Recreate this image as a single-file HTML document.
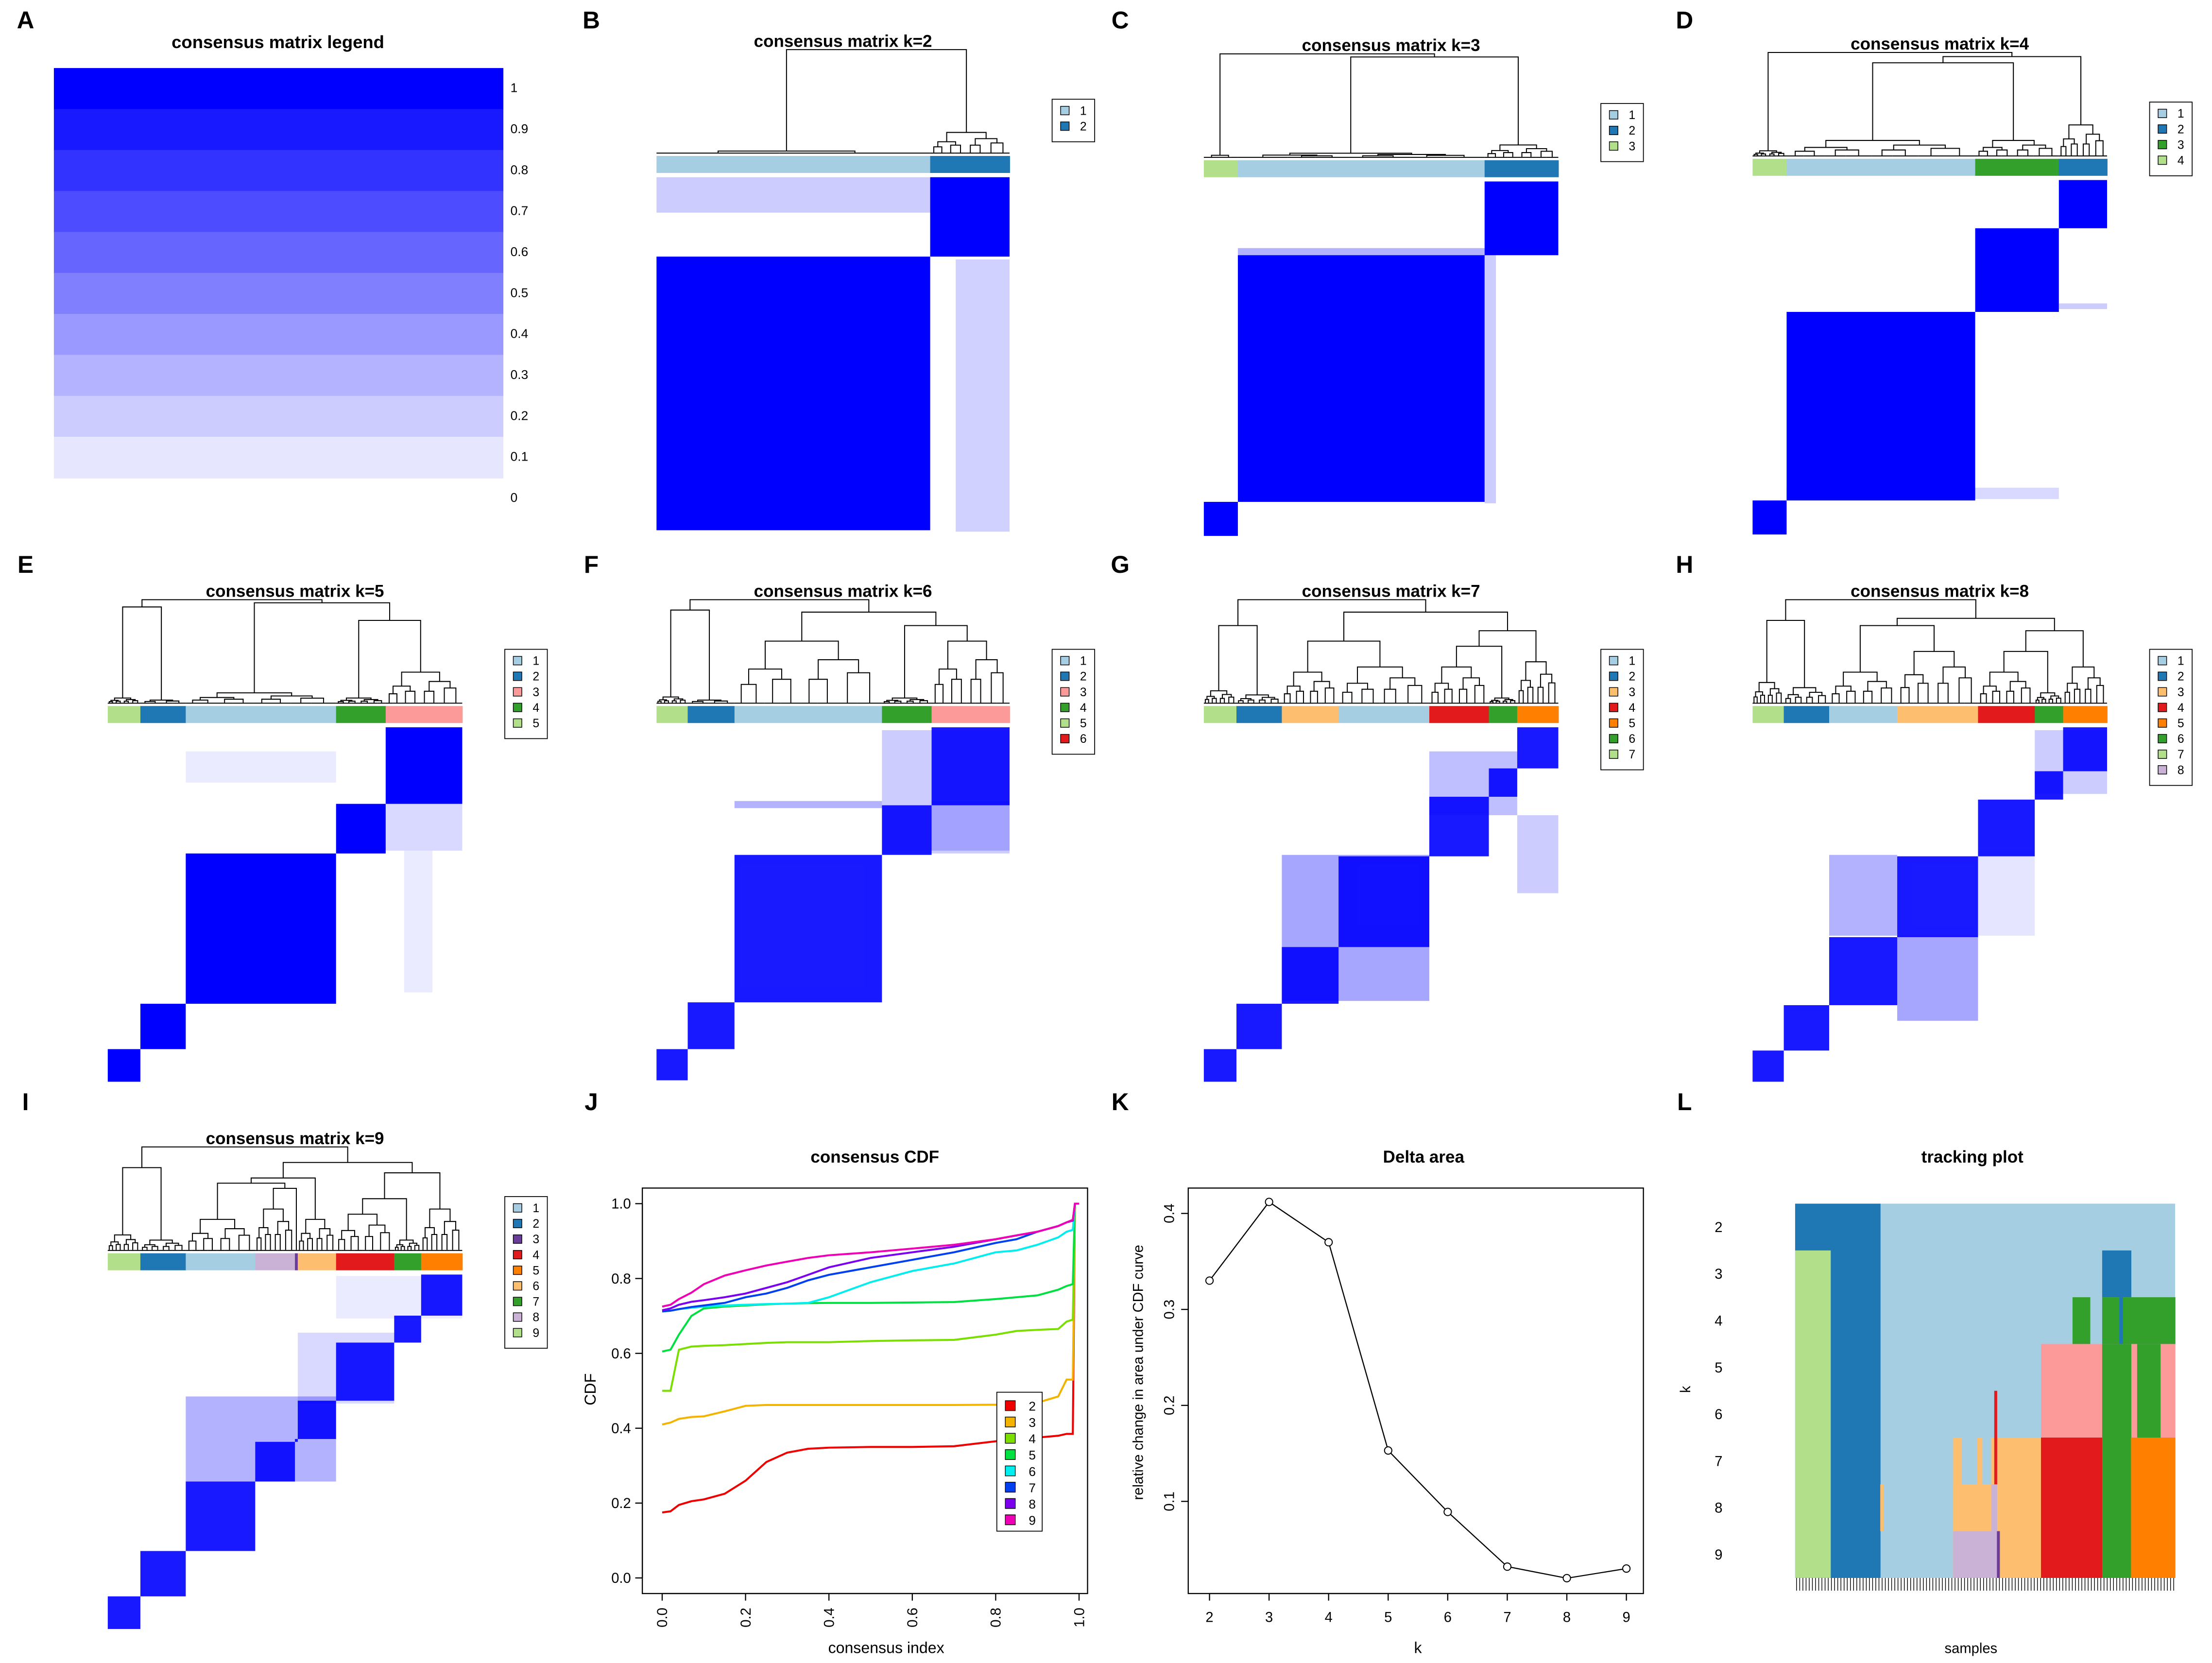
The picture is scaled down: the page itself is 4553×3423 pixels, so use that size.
<!DOCTYPE html>
<html><head><meta charset="utf-8"><style>
html,body{margin:0;padding:0;background:#fff}
svg{display:block}
text{font-family:"Liberation Sans",sans-serif}
</style></head><body>
<svg id="fig" xmlns="http://www.w3.org/2000/svg" width="4553" height="3423" viewBox="0 0 1560 1173" preserveAspectRatio="none">
<rect x="0" y="0" width="1560" height="1173" fill="#fff"/>
</svg>
<script>
// ---------- data ----------
const legendLevels = [1,0.9,0.8,0.7,0.6,0.5,0.4,0.3,0.2,0.1,0];
const C = {lb:'#A6CEE3',db:'#1F78B4',lg:'#B2DF8A',g:'#33A02C',pk:'#FB9A99',rd:'#E31A1C',lo:'#FDBF6F',or:'#FF7F00',lv:'#CAB2D6',pu:'#6A3D9A'};
const kValues = [2,3,4,5,6,7,8,9];
const deltaArea = [0.33,0.412,0.37,0.153,0.089,0.032,0.02,0.03];
const cdfX = [0,0.02,0.04,0.07,0.1,0.15,0.2,0.25,0.3,0.35,0.4,0.5,0.6,0.7,0.8,0.85,0.9,0.95,0.97,0.985,0.99,1.0];
const cdf2 = [0.175,0.178,0.195,0.205,0.21,0.225,0.26,0.31,0.335,0.345,0.348,0.35,0.35,0.352,0.365,0.37,0.375,0.38,0.385,0.385,1.0,1.0];
const cdf3 = [0.41,0.415,0.425,0.43,0.432,0.445,0.46,0.462,0.462,0.462,0.462,0.462,0.462,0.462,0.463,0.466,0.468,0.485,0.53,0.53,1.0,1.0];
const cdf4 = [0.50,0.5,0.61,0.618,0.62,0.622,0.625,0.628,0.63,0.63,0.63,0.633,0.635,0.636,0.65,0.66,0.663,0.665,0.685,0.69,1.0,1.0];
const cdf5 = [0.605,0.61,0.65,0.70,0.72,0.725,0.728,0.731,0.733,0.734,0.735,0.735,0.736,0.737,0.745,0.75,0.755,0.77,0.78,0.785,1.0,1.0];
const cdf6 = [0.712,0.714,0.718,0.722,0.725,0.728,0.73,0.732,0.733,0.735,0.75,0.79,0.82,0.84,0.87,0.875,0.89,0.91,0.925,0.93,1.0,1.0];
const cdf7 = [0.712,0.714,0.718,0.724,0.728,0.735,0.75,0.76,0.775,0.795,0.81,0.83,0.85,0.87,0.895,0.905,0.925,0.94,0.95,0.955,1.0,1.0];
const cdf8 = [0.715,0.72,0.73,0.738,0.742,0.75,0.76,0.775,0.79,0.81,0.83,0.855,0.87,0.885,0.905,0.915,0.925,0.94,0.95,0.955,1.0,1.0];
const cdf9 = [0.725,0.73,0.745,0.762,0.785,0.808,0.822,0.835,0.845,0.855,0.862,0.87,0.88,0.89,0.905,0.915,0.925,0.94,0.95,0.957,1.0,1.0];
const cdfSeries = [cdf2,cdf3,cdf4,cdf5,cdf6,cdf7,cdf8,cdf9];
const cdfColors = ['#EE0000','#F2B400','#7ADF00','#00E040','#00EEEE','#0040EE','#7A00EE','#EE00B4'];
const yTicksCDF = [0,0.2,0.4,0.6,0.8,1.0];
const yTicksCDFLabels = ['0.0','0.2','0.4','0.6','0.8','1.0'];
const yTicksDelta = [0.1,0.2,0.3,0.4];

// matrix panels
const panels = [
 {id:'B',k:2,x0:463,y0:125,w:[193,56],c:['lb','db'],ih:[0.02,0.2],tree:[0,1,1],leg:['lb','db']},
 {id:'C',k:3,x0:849,y0:128,w:[24,174,52],c:['lg','lb','db'],ih:[0.02,0.04,0.12],tree:[0,[1,2,0.97],1],leg:['lb','db','lg']},
 {id:'D',k:4,x0:1236,y0:127,w:[24,133,59,34],c:['lg','lb','g','db'],ih:[0.05,0.15,0.15,0.3],tree:[0,[[1,2,0.9],3,0.96],1],leg:['lb','db','g','lg']},
 {id:'E',k:5,x0:76,y0:513,w:[23,32,106,35,54],c:['lg','db','lb','g','pk'],ih:[0.05,0.03,0.1,0.05,0.3],tree:[[0,1,0.93],[2,[3,4,0.8],0.97],1],leg:['lb','db','pk','g','lg']},
 {id:'F',k:6,x0:463,y0:513,w:[22,33,104,35,55],c:['lg','db','lb','g','pk'],ih:[0.06,0.03,0.6,0.05,0.6],tree:[[0,1,0.9],[2,[3,4,0.75],0.88],1],leg:['lb','db','pk','g','lg','rd']},
 {id:'G',k:7,x0:849,y0:513,w:[23,32,40,64,42,20,29],c:['lg','db','lo','lb','rd','g','or'],ih:[0.12,0.08,0.3,0.35,0.35,0.05,0.4],tree:[[0,1,0.75],[[2,3,0.6],[[4,5,0.55],6,0.7],0.88],1],leg:['lb','db','lo','rd','or','g','lg']},
 {id:'H',k:8,x0:1236,y0:513,w:[22,32,48,57,40,20,31],c:['lg','db','lb','lo','rd','g','or'],ih:[0.2,0.15,0.3,0.5,0.3,0.1,0.35],tree:[[0,1,0.8],[[2,3,0.75],[[4,5,0.5],6,0.7],0.82],1],leg:['lb','db','lo','rd','or','g','lg','lv']},
 {id:'I',k:9,x0:76,y0:899,w:[23,32,49,28,2,27,41,19,29],c:['lg','db','lb','lv','pu','lo','rd','g','or'],ih:[0.15,0.1,0.3,0.4,0,0.3,0.35,0.1,0.4],tree:[[0,1,0.8],[[[2,[3,4,0.6],0.65],5,0.7],[[6,7,0.5],8,0.75],0.85],1],leg:['lb','db','pu','rd','or','lo','g','lv','lg']}
];
// faint off-diagonal regions [x0,x1,y0,y1,opacity]
const faint = {
 B:[[463,656,125,150,0.2],[674,712,183,375,0.18]],
 C:[[873,1047,175,182,0.3],[1047,1055,180,355,0.2]],
 D:[[1260,1268,220,350,0.15],[1260,1393,344,352,0.45],[1393,1452,344,352,0.15],[1452,1486,214,218,0.2]],
 E:[[272,326,560,600,0.15],[131,237,530,552,0.08],[285,305,600,700,0.08]],
 F:[[622,712,515,602,0.2],[518,622,565,570,0.3],[657,712,565,600,0.2]],
 G:[[1008,1070,530,575,0.25],[1070,1099,575,630,0.2],[904,1008,603,706,0.35]],
 H:[[1290,1338,603,660,0.3],[1338,1395,660,720,0.35],[1395,1435,600,660,0.1],[1435,1486,515,560,0.2]],
 I:[[131,237,985,1045,0.3],[210,278,940,990,0.15],[237,326,900,930,0.08]]
};

// tracking plot: background lb, rect [f0,f1,rowStart,rowEnd,color]
const trackRects = [
 [0,0.224,0,7,'db'],[0,0.093,1,7,'lg'],[0.808,0.884,1,1,'db'],
 [0.730,0.776,2,2,'g'],[0.808,1.0,2,2,'g'],[0.853,0.862,2,2,'db'],
 [0.647,1.0,3,4,'pk'],[0.808,0.884,3,4,'g'],[0.900,0.961,3,4,'g'],
 [0.416,0.438,5,7,'lo'],[0.479,0.492,5,7,'lo'],[0.516,0.647,5,7,'lo'],[0.416,0.516,6,7,'lo'],
 [0.647,0.808,5,7,'rd'],[0.808,0.884,5,7,'g'],[0.884,1.0,5,7,'or'],
 [0.224,0.232,6,6,'lo'],[0.516,0.531,6,6,'lv'],[0.416,0.531,7,7,'lv'],[0.531,0.538,7,7,'pu'],
 [0.524,0.531,4,5,'rd']
];
const trackRowLabels = ['2','3','4','5','6','7','8','9'];

// ---------- helpers ----------
const svg = document.getElementById('fig');
const NS = 'http://www.w3.org/2000/svg';
function mk(tag, attrs, parent){const e=document.createElementNS(NS,tag);for(const a in attrs)e.setAttribute(a,attrs[a]);(parent||svg).appendChild(e);return e;}
function txt(x,y,s,size,opts,parent){const t=mk('text',Object.assign({x:x,y:y,'font-size':size,'text-anchor':'middle',fill:'#000'},opts||{}),parent);t.textContent=s;return t;}

// panel letters
const letters=[['A',18,20],['B',417,20],['C',790,20],['D',1188,20],['E',18,404],['F',417,404],['G',790,404],['H',1188,404],['I',18,783],['J',417,783],['K',790,783],['L',1188,783]];
letters.forEach(l=>{const t=txt(l[1],l[2],l[0],17,{'font-weight':'bold'});

});

// ---------- Panel A ----------
{
 const g=mk('g',{});
 
 
 const t=txt(196,34,'consensus matrix legend',12.5,{'font-weight':'bold'},g);
 
 
 const top=48, bh=28.9;
 legendLevels.forEach((v,i)=>{
  if(v>0){const shade=Math.round(255*(1-v));
   const r=mk('rect',{x:38,y:top+i*bh,width:317,height:bh+0.5,fill:`rgb(${shade},${shade},255)`},g);
   
   }
  const l=txt(360,top+i*bh+17,String(v),9,{'text-anchor':'start'},g);
  
  
 });
}

// ---------- matrix panels ----------
panels.forEach(p=>{
 const g=mk('g',{});
 
 
 const W=p.w.reduce((a,b)=>a+b,0), X1=p.x0+W;
 const t=txt(p.x0+W/2+7,p.y0-92,'consensus matrix k='+p.k,12,{'font-weight':'bold'},g);
 
 
 const b=[p.x0]; p.w.forEach(w=>b.push(b[b.length-1]+w));
 p.w.forEach((w,i)=>{const r=mk('rect',{x:b[i],y:p.y0-15,width:w+0.3,height:12,fill:C[p.c[i]]},g);
  
  });
 (faint[p.id]||[]).forEach(f=>{const r=mk('rect',{x:f[0],y:f[2],width:f[1]-f[0],height:f[3]-f[2],fill:'#0000ff','fill-opacity':f[4]},g);
  
  });
 const op = p.k>=6?0.9:1;
 p.w.forEach((w,i)=>{const a=b[i],bb=b[i+1];
  const r=mk('rect',{x:a,y:p.y0+(X1-bb),width:w,height:w,fill:'#0000ff','fill-opacity':op},g);
  
  });
 const base=p.y0-17, topY=p.y0-90;
 const Y=h=>base-h*(base-topY);
 const dg=mk('g',{stroke:'#000','stroke-width':0.7,fill:'none'},g);
 
 
 function br(l,r,h){mk('path',{d:`M${l.x},${Y(l.h)}V${Y(h)}H${r.x}V${Y(r.h)}`},dg);return {x:(l.x+r.x)/2,h:h};}
 function sub(a,c,h,d){ if(d===0||h<0.015||c-a<3){mk('path',{d:`M${a},${base}H${c}`},dg);return {x:(a+c)/2,h:0.005};}
  const m=a+(c-a)*0.45; const L=sub(a,m,h*0.55,d-1), R=sub(m,c,h*0.7,d-1); return br(L,R,h);}
 function node(n){ if(typeof n==='number') return sub(b[n],b[n+1],p.ih[n],3);
  return br(node(n[0]),node(n[1]),n[2]); }
 node(p.tree);
 const lx=p.x0+W+30, ly=p.y0-55, lh=8+11*p.leg.length;
 const lg=mk('g',{},g);
 
 
 mk('rect',{x:lx,y:ly,width:30,height:lh,fill:'#fff',stroke:'#000','stroke-width':0.6},lg);
 p.leg.forEach((c,i)=>{
  const s=mk('rect',{x:lx+6,y:ly+5+11*i,width:6,height:6,fill:C[c],stroke:'#000','stroke-width':0.5},lg);
  
  
  txt(lx+22,ly+11+11*i,String(i+1),8.5,{},lg);
 });
});

// ---------- Panel J: CDF ----------
{
 const g=mk('g',{});
 
 
 const bx0=453,bx1=767,by0=838,by1=1124;
 const X=v=>467+v*(761-467), Yv=v=>1113-v*(1113-849);
 const t=txt(617,820,'consensus CDF',12,{'font-weight':'bold'},g);
 
 
 mk('rect',{x:bx0,y:by0,width:bx1-bx0,height:by1-by0,fill:'none',stroke:'#000','stroke-width':0.8},g);
 yTicksCDF.forEach((v,i)=>{mk('line',{x1:bx0-5,x2:bx0,y1:Yv(v),y2:Yv(v),stroke:'#000','stroke-width':0.8},g);
  const l=txt(bx0-8,Yv(v)+3.5,yTicksCDFLabels[i],10,{'text-anchor':'end'},g);
  
  });
 mk('line',{x1:bx0,x2:bx0,y1:Yv(0),y2:Yv(1),stroke:'#000','stroke-width':0.8},g);
 mk('line',{x1:X(0),x2:X(1),y1:by1,y2:by1,stroke:'#000','stroke-width':0.8},g);
 yTicksCDF.forEach((v,i)=>{mk('line',{x1:X(v),x2:X(v),y1:by1,y2:by1+5,stroke:'#000','stroke-width':0.8},g);
  const l=txt(0,0,yTicksCDFLabels[i],10,{transform:`translate(${X(v)+3.5},${by1+10}) rotate(-90)`,'text-anchor':'end'},g);
  
  });
 const xl=txt(625,1166,'consensus index',11,{},g);
 
 
 const yl=txt(0,0,'CDF',11,{transform:'translate(420,980) rotate(-90)'},g);
 
 
 cdfSeries.forEach((s,i)=>{
  const d=s.map((v,j)=>(j?'L':'M')+X(cdfX[j]).toFixed(1)+','+Yv(v).toFixed(1)).join('');
  const pth=mk('path',{d:d,fill:'none',stroke:cdfColors[i],'stroke-width':1.4},g);
  
  
 });
 const lg=mk('g',{},g);
 
 
 mk('rect',{x:703,y:982,width:32,height:98,fill:'#fff',stroke:'#000','stroke-width':0.6},lg);
 kValues.forEach((k,i)=>{
  const s=mk('rect',{x:709,y:988+11.5*i,width:7,height:7,fill:cdfColors[i],stroke:'#000','stroke-width':0.5},lg);
  
  
  txt(728,995+11.5*i,String(k),9,{},lg);
 });
}

// ---------- Panel K: Delta area ----------
{
 const g=mk('g',{});
 
 
 const bx0=838,bx1=1159,by0=838,by1=1124;
 const X=k=>853+(k-2)*42, Yv=v=>1059-(v-0.1)*677;
 const t=txt(1004,820,'Delta area',12,{'font-weight':'bold'},g);
 
 
 mk('rect',{x:bx0,y:by0,width:bx1-bx0,height:by1-by0,fill:'none',stroke:'#000','stroke-width':0.8},g);
 yTicksDelta.forEach(v=>{mk('line',{x1:bx0-5,x2:bx0,y1:Yv(v),y2:Yv(v),stroke:'#000','stroke-width':0.8},g);
  const l=txt(0,0,String(v),10,{transform:`translate(${bx0-10},${Yv(v)}) rotate(-90)`},g);
  
  });
 mk('line',{x1:bx0,x2:bx0,y1:Yv(0.1),y2:Yv(0.4),stroke:'#000','stroke-width':0.8},g);
 mk('line',{x1:X(2),x2:X(9),y1:by1,y2:by1,stroke:'#000','stroke-width':0.8},g);
 kValues.forEach(k=>{mk('line',{x1:X(k),x2:X(k),y1:by1,y2:by1+5,stroke:'#000','stroke-width':0.8},g);
  const l=txt(X(k),by1+20,String(k),10,{},g);
  
  });
 const xl=txt(1000,1166,'k',11,{},g);
 
 
 const yl=txt(0,0,'relative change in area under CDF curve',10,{transform:'translate(806,968) rotate(-90)'},g);
 
 
 const d=deltaArea.map((v,i)=>(i?'L':'M')+X(kValues[i])+','+Yv(v).toFixed(1)).join('');
 const ln=mk('path',{d:d,fill:'none',stroke:'#000','stroke-width':0.8},g);
 
 
 deltaArea.forEach((v,i)=>{const c=mk('circle',{cx:X(kValues[i]),cy:Yv(v),r:2.6,fill:'#fff',stroke:'#000','stroke-width':0.7},g);
  
  });
}

// ---------- Panel L: tracking ----------
{
 const g=mk('g',{});
 
 
 const x0=1266,x1=1534,y0=849,y1=1113,rh=(y1-y0)/8;
 const t=txt(1391,820,'tracking plot',12,{'font-weight':'bold'},g);
 
 
 const bg=mk('rect',{x:x0,y:y0,width:x1-x0,height:y1-y0,fill:C.lb},g);
 
 
 trackRects.forEach(r=>{const e=mk('rect',{x:x0+r[0]*(x1-x0),y:y0+r[2]*rh,width:(r[1]-r[0])*(x1-x0)+0.2,height:(r[3]-r[2]+1)*rh,fill:C[r[4]]},g);
  
  });
 trackRowLabels.forEach((s,i)=>{const l=txt(1212,y0+rh*(i+0.5)+3.5,s,10,{},g);
  
  });
 let d='';for(let i=0;i<120;i++){const x=x0+1+i*(x1-x0-2)/119;d+=`M${x.toFixed(2)},${y1}V${y1+9}`;}
 const tk=mk('path',{d:d,stroke:'#000','stroke-width':0.5},g);
 
 
 const xl=txt(1390,1166,'samples',10,{},g);
 
 
 const yl=txt(0,0,'k',10,{transform:'translate(1192,980) rotate(-90)'},g);
 
 
}
</script>
</body></html>
